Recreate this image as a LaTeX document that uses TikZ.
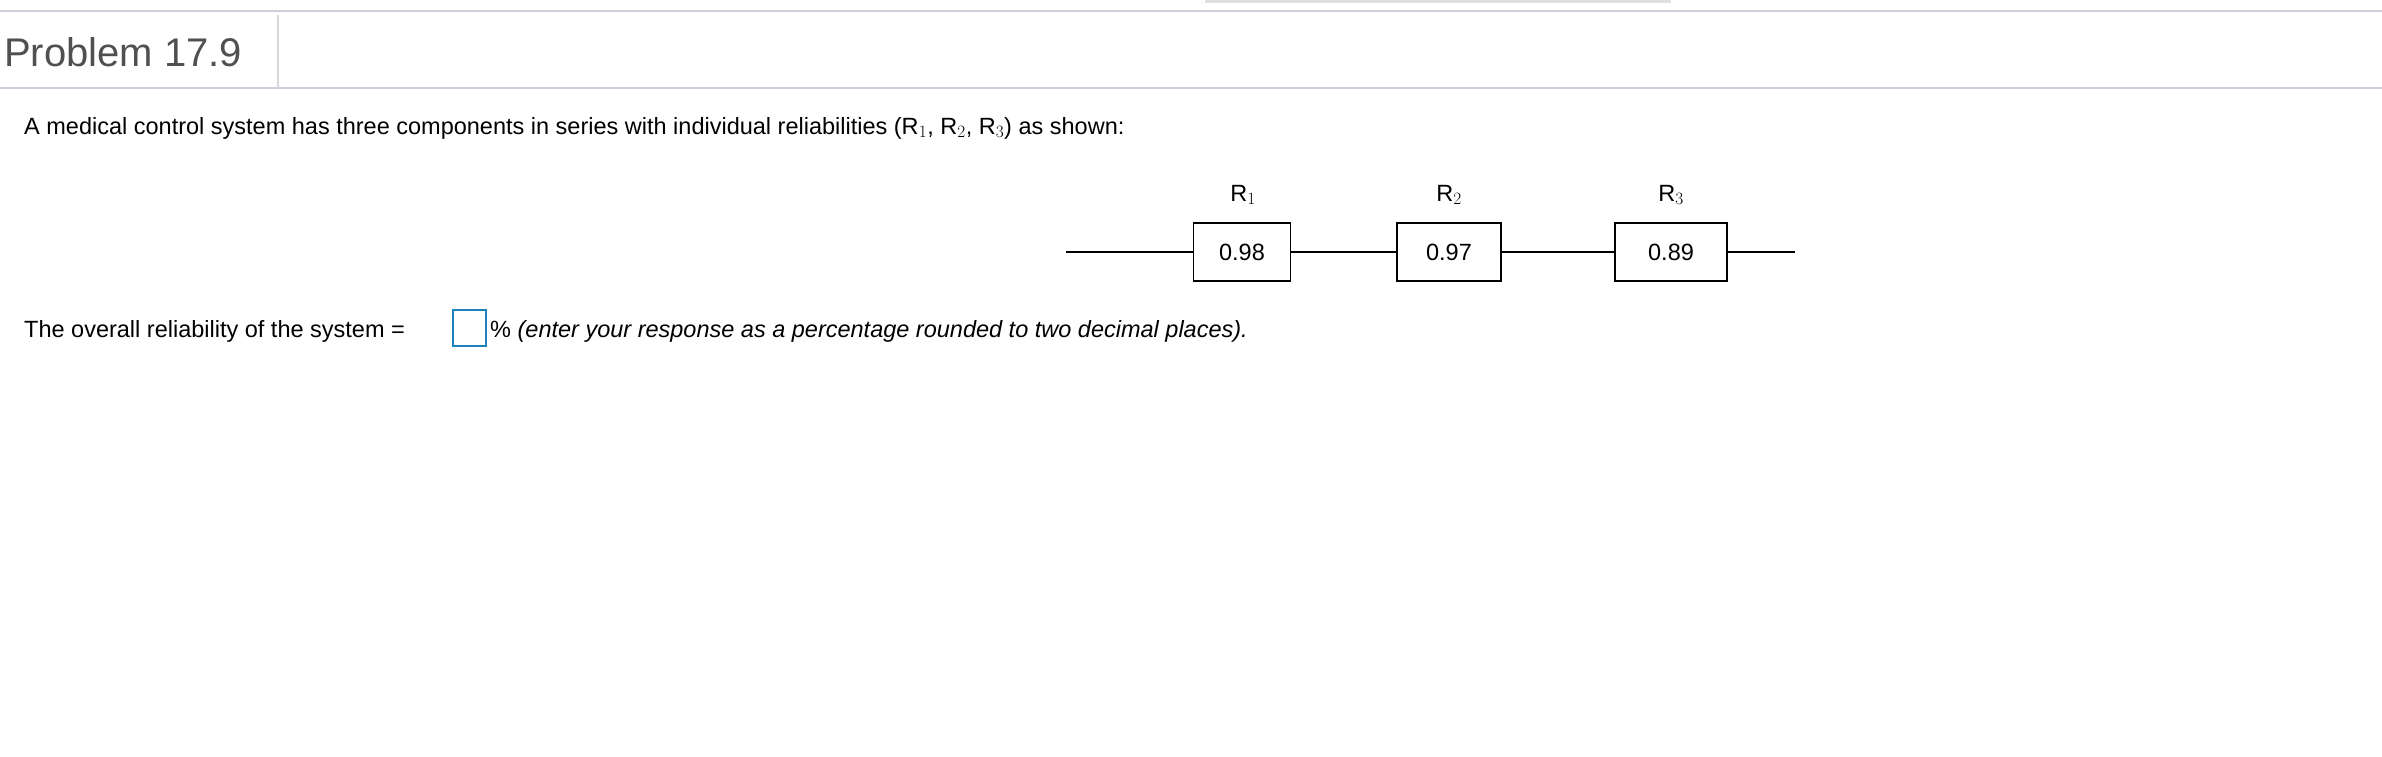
\documentclass[tikz,border=0pt]{standalone}
\usepackage{fontspec}
\setmainfont{Liberation Sans}
\begin{document}
\begin{tikzpicture}[x=1pt,y=-1pt,
  txt/.style={anchor=base west,inner sep=0pt,font=\fontsize{23.5}{28}\selectfont},
  rbox/.style={draw,line width=1.3pt,minimum width=97pt,minimum height=58pt,inner sep=0pt,font=\fontsize{23.5}{28}\selectfont},
  rlab/.style={inner sep=0pt,font=\fontsize{23.5}{28}\selectfont}]
\useasboundingbox (0,0) rectangle (2382,756);
\fill[gray!25] (1205,0) rectangle (1671,3);
\draw[color={rgb,255:red,205;green,208;blue,220},line width=2pt] (0,11) -- (2382,11);
\draw[color={rgb,255:red,205;green,208;blue,220},line width=2pt] (0,88) -- (2382,88);
\draw[color={rgb,255:red,215;green,215;blue,220},line width=1.5pt] (278,15) -- (278,87);
\node[anchor=base west,inner sep=0pt,font=\fontsize{40}{48}\selectfont,text={rgb,255:red,80;green,80;blue,80}] (title) at (4,66) {Problem 17.9};
\node[txt] (l1) at (24,134) {A medical control system has three components in series with individual reliabilities (R$_1$, R$_2$, R$_3$) as shown:};
\node[rbox] (b1) at (1242,252) {0.98};
\node[rbox,minimum width=104pt] (b2) at (1449,252) {0.97};
\node[rbox,minimum width=112pt] (b3) at (1671,252) {0.89};
\node[rlab] (r1) at (1243,195) {R$_1$};
\node[rlab] (r2) at (1449,195) {R$_2$};
\node[rlab] (r3) at (1671,195) {R$_3$};
\coordinate (s) at (1066,252);
\coordinate (e) at (1795,252);
\draw[line width=1.3pt] (s) -- (b1.west) (b1.east) -- (b2.west) (b2.east) -- (b3.west) (b3.east) -- (e);
\node[txt] (l2) at (24,337) {The overall reliability of the system =};
\node[draw={rgb,255:red,30;green,130;blue,190},line width=1.5pt,minimum width=33pt,minimum height=36pt,inner sep=0pt] (in) at (469.5,328) {};
\node[txt] (l3) at (490,337) {\%\ \itshape (enter your response as a percentage rounded to two decimal places).};
\end{tikzpicture}
\end{document}
